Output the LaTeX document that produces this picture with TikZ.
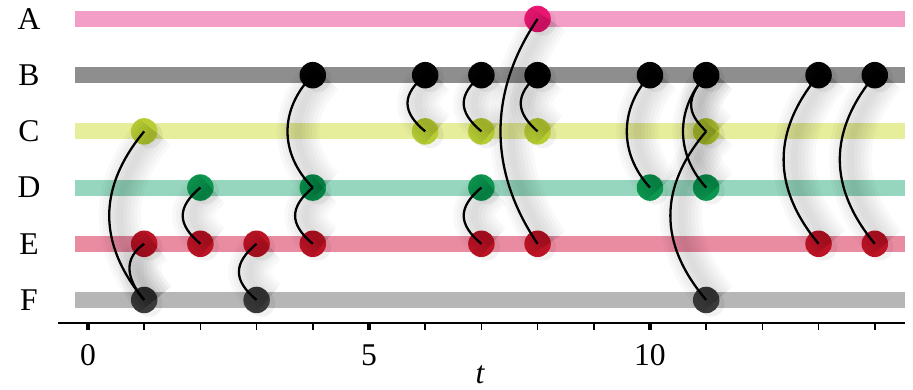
\documentclass[tikz,border=0pt]{standalone}
\usepackage{fontspec}
\setmainfont{Liberation Serif}
\usetikzlibrary{positioning}

\definecolor{barA}{RGB}{243,158,198}
\definecolor{barB}{RGB}{142,142,142}
\definecolor{barC}{RGB}{230,237,155}
\definecolor{barD}{RGB}{150,214,190}
\definecolor{barE}{RGB}{233,140,162}
\definecolor{barF}{RGB}{182,182,182}
\definecolor{dotA}{RGB}{232,22,112}
\definecolor{dotB}{RGB}{5,5,5}
\definecolor{dotC}{RGB}{184,205,52}
\definecolor{dotD}{RGB}{12,150,78}
\definecolor{dotE}{RGB}{188,20,36}
\definecolor{dotF}{RGB}{58,58,58}

\begin{document}
\begin{tikzpicture}[
    x=1.124cm, y=1.124cm,
    font=\fontsize{18}{21}\selectfont,
    rowbar/.style={line width=0.32cm},
    dot/.style={
        circle, fill=#1, inner sep=0pt, minimum size=0.53cm,
        preaction={fill=black, opacity=0.05, transform canvas={xshift=3pt, yshift=-2pt}}
    },
    blur/.style={draw=black, opacity=0.022, line width=#1, transform canvas={xshift=6pt}},
    link/.style={
        line width=1.3pt, black,
        preaction={blur=24pt}, preaction={blur=20pt}, preaction={blur=16pt},
        preaction={blur=12pt}, preaction={blur=8pt}, preaction={blur=4pt}
    },
    axisline/.style={line width=1.5pt},
    tickmark/.style={line width=1pt},
    bigtick/.style={line width=2.4pt},
]
\useasboundingbox (-1.566,-1.601) rectangle (14.68,5.338);

% rows with their labels
\foreach \r/\y/\c in {A/5/barA, B/4/barB, C/3/barC, D/2/barD, E/1/barE, F/0/barF} {
    \node (lab\r) at (-1.05,\y) {\r};
    \coordinate (start\r) at (-0.23,\y);
    \coordinate (end\r) at (14.54,\y);
    \draw[rowbar, draw=\c] (start\r) -- (end\r);
}

% events on each row
\foreach \r/\y/\c/\ts in {A/5/dotA/{8}, B/4/dotB/{4,6,7,8,10,11,13,14},
        C/3/dotC/{1,6,7,8,11}, D/2/dotD/{2,4,7,10,11},
        E/1/dotE/{1,2,3,4,7,8,13,14}, F/0/dotF/{1,3,11}} {
    \foreach \t in \ts {
        \node[dot=\c] (\r\t) at (\t,\y) {};
    }
}

% links between events
\foreach \p/\q/\a/\b in {D2/E2/0.42/0.35, E3/F3/0.42/0.35, D4/E4/0.42/0.35,
        B6/C6/0.42/0.35, B7/C7/0.42/0.35, D7/E7/0.42/0.35, B8/C8/0.4/0.35,
        B4/D4/0.6/0.6, B10/D10/0.55/0.6, B11/D11/0.55/0.6,
        C1/F1/0.83/1.0, B13/E13/0.83/1.0, B14/E14/0.83/1.0, C11/F11/0.85/1.0,
        A8/E8/0.88/1.3} {
    \draw[link] (\p.center) .. controls +(-\a,-\b) and +(-\a,\b) .. (\q.center);
}

% branches joining other links
\draw[link] (E1.center) .. controls +(-0.35,-0.25) and +(-0.35,0.42) .. (F1.center);
\draw[link] (B11.center) .. controls +(-0.45,-0.5) and +(-0.25,0.25) .. (C11.center);

% time axis
\coordinate (axL) at (-0.53,-0.41);
\coordinate (axR) at (14.54,-0.41);
\draw[axisline] (axL) -- (axR);
\foreach \t in {1,2,3,4,6,7,8,9,11,12,13,14}
    \draw[tickmark] (\t,-0.41) -- ++(0,-0.13);
\foreach \t in {0,5,10} {
    \draw[bigtick] (\t,-0.41) -- ++(0,-0.13);
    \node (num\t) at (\t,-0.98) {\t};
}
\node (tlab) at (6.98,-1.33) {\textit{t}};

\end{tikzpicture}
\end{document}
